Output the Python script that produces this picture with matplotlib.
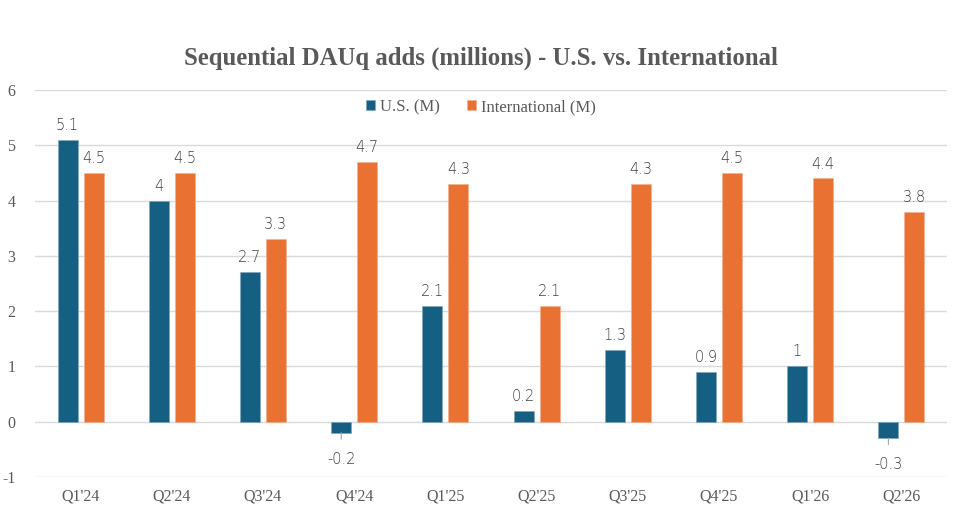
import numpy as np
import matplotlib.pyplot as plt

plt.rcParams['axes.unicode_minus'] = False

# Datos
quarters = ["Q1'24", "Q2'24", "Q3'24", "Q4'24", "Q1'25", "Q2'25", "Q3'25", "Q4'25", "Q1'26", "Q2'26"]
us_adds = [5.1, 4, 2.7, -0.2, 2.1, 0.2, 1.3, 0.9, 1, -0.3]
intl_adds = [4.5, 4.5, 3.3, 4.7, 4.3, 2.1, 4.3, 4.5, 4.4, 3.8]

blue = '#156082'
orange = '#E97132'
serif = ['Liberation Serif', 'DejaVu Serif']

fig = plt.figure(figsize=(9.62, 5.14), dpi=100)
ax = fig.add_axes([35 / 962, 1 - 477 / 514, 912 / 962, 387 / 514])

x = np.arange(len(quarters))
w = 0.22
off = 0.1425
ax.bar(x - off, us_adds, w, color=blue, label='U.S. (M)', zorder=3, edgecolor='#7fa6bb', linewidth=0.4)
ax.bar(x + off, intl_adds, w, color=orange, label='International (M)', zorder=3, edgecolor='#f4b08f', linewidth=0.4)

# Etiquetas de datos
def fmt(v):
    return f'{v:g}'

lab = dict(fontsize=10.5, color='#404040', family='DejaVu Sans', fontweight='light')
for xi, v in zip(x - off, us_adds):
    if v >= 0:
        ax.annotate(fmt(v), (xi, v), xytext=(0, 5), textcoords='offset points',
                    ha='center', va='bottom', **lab)
    else:
        ax.annotate(fmt(v), (xi, v), xytext=(0, -19), textcoords='offset points',
                    ha='center', va='center', **lab,
                    arrowprops=dict(arrowstyle='-', color='#a6a6a6', lw=0.8, shrinkA=7, shrinkB=0))
for xi, v in zip(x + off, intl_adds):
    ax.annotate(fmt(v), (xi, v), xytext=(0, 5), textcoords='offset points',
                ha='center', va='bottom', **lab)

ax.set_xlim(-0.5, len(quarters) - 0.5)
ax.set_ylim(-1, 6)
ax.set_yticks(range(-1, 7))
ax.set_xticks(x)
ax.set_xticklabels(quarters)
for lbl in ax.get_xticklabels() + ax.get_yticklabels():
    lbl.set_family(serif)
    lbl.set_fontsize(11.5)
    lbl.set_color('#595959')
ax.tick_params(axis='both', length=0)
ax.tick_params(axis='y', pad=14)
ax.tick_params(axis='x', pad=8)
ax.grid(axis='y', color='#d9d9d9', linewidth=1, zorder=0)
for s in ax.spines.values():
    s.set_visible(False)

fig.text(0.5, 1 - 58 / 514, 'Sequential DAUq adds (millions) - U.S. vs. International',
         ha='center', va='center', fontsize=17.8, fontweight='bold', color='#595959', family=serif)
fig.legend(loc='center', bbox_to_anchor=(0.5, 1 - 107 / 514), ncol=2, frameon=False,
           prop={'family': serif, 'size': 12}, labelcolor='#595959',
           handlelength=0.55, handleheight=0.55, handletextpad=0.3, columnspacing=1.6)

fig.savefig('out.png', dpi=100)
